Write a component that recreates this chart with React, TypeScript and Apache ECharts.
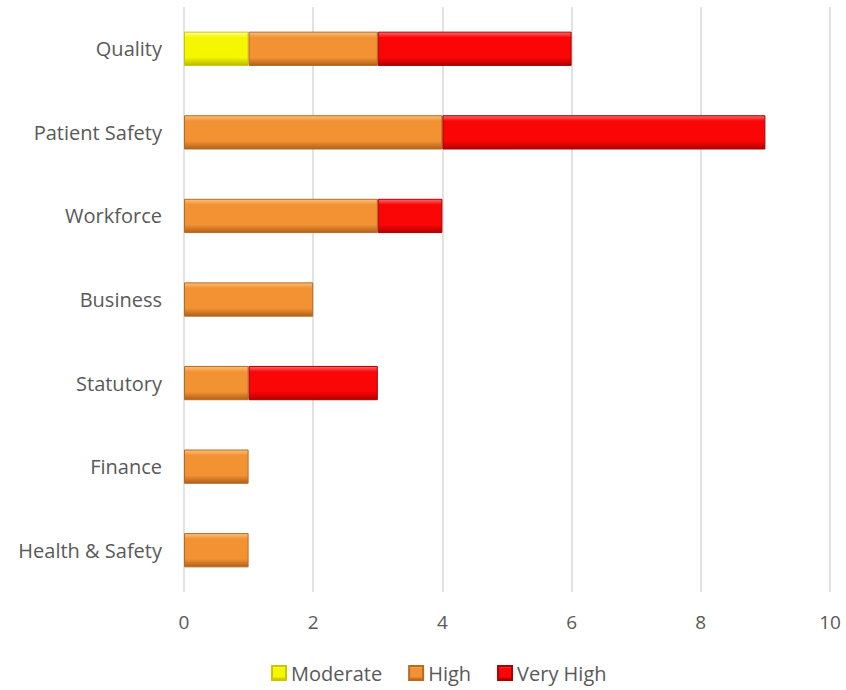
import React, { useEffect, useRef } from "react";
import * as echarts from "echarts";

const categories = ["Quality", "Patient Safety", "Workforce", "Business", "Statutory", "Finance", "Health & Safety"];
const moderate = [1, 0, 0, 0, 0, 0, 0];
const high = [2, 4, 3, 2, 1, 1, 1];
const veryHigh = [3, 5, 1, 0, 2, 0, 0];
const xTicks = [0, 2, 4, 6, 8, 10];

const FONT = "'Open Sans', sans-serif";
const TXT = "#595959";

function grad(light: string, mid: string, dark: string) {
  return new echarts.graphic.LinearGradient(0, 0, 0, 1, [
    { offset: 0, color: light },
    { offset: 0.16, color: mid },
    { offset: 0.76, color: mid },
    { offset: 1, color: dark },
  ]);
}

export default function App() {
  const ref = useRef<HTMLDivElement>(null);
  useEffect(() => {
    if (!ref.current) return;
    const chart = echarts.init(ref.current, null, { renderer: "svg" });
    const mk = (name: string, data: number[], style: any) => ({
      name,
      type: "bar",
      stack: "total",
      barWidth: "41%",
      data: data.map((v) => (v === 0 ? null : v)),
      itemStyle: style,
    });
    chart.setOption({
      animation: false,
      backgroundColor: "#ffffff",
      grid: { left: 184, right: 16, top: 7, bottom: 98, containLabel: false },
      xAxis: {
        type: "value",
        min: 0,
        max: 10,
        interval: 2,
        axisLine: { show: false },
        axisTick: { show: false },
        splitLine: { show: true, lineStyle: { color: "#d9d9d9", width: 1.5 } },
        axisLabel: {
          color: TXT,
          fontFamily: FONT,
          fontSize: 19,
          margin: 20,
          formatter: (v: number) => (xTicks.includes(v) ? String(v) : ""),
        },
      },
      yAxis: {
        type: "category",
        data: categories,
        inverse: true,
        axisLine: { show: false },
        axisTick: { show: false },
        splitLine: { show: false },
        axisLabel: { color: TXT, fontFamily: FONT, fontSize: 20, margin: 22 },
      },
      legend: {
        bottom: 2,
        left: 266,
        icon: "rect",
        itemWidth: 14,
        itemHeight: 14,
        itemGap: 26,
        textStyle: { color: TXT, fontFamily: FONT, fontSize: 20 },
        data: ["Moderate", "High", "Very High"],
      },
      series: [
        mk("Moderate", moderate, {
          color: grad("#ffff99", "#f6f600", "#b8b800"),
          borderColor: "#c8c800",
          borderWidth: 1,
        }),
        mk("High", high, {
          color: grad("#fcc27a", "#f39233", "#b0601a"),
          borderColor: "#b56a25",
          borderWidth: 1,
        }),
        mk("Very High", veryHigh, {
          color: grad("#ff6a6a", "#fb0606", "#b00000"),
          borderColor: "#a80000",
          borderWidth: 1,
        }),
      ],
    });
    return () => chart.dispose();
  }, []);
  return (
    <div
      ref={ref}
      style={{ position: "fixed", left: 0, top: 0, width: 846, height: 690, background: "#fff" }}
    />
  );
}
